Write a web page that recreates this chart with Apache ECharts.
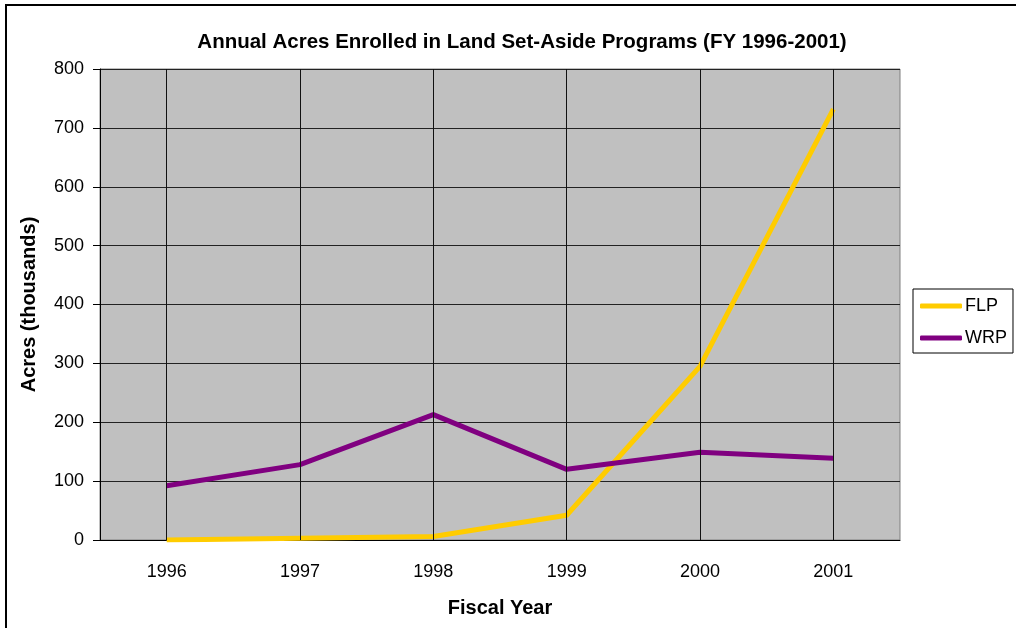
<!DOCTYPE html>
<html>
<head>
<meta charset="utf-8">
<style>
  html, body { margin: 0; padding: 0; background: #fff; }
  #chart { width: 1016px; height: 628px; }
</style>
<script src="https://cdn.jsdelivr.net/npm/echarts@6/dist/echarts.min.js"></script>
</head>
<body>
<div id="chart"></div>
<script>
const years = ['1996', '1997', '1998', '1999', '2000', '2001']
const flp = [0, 3, 6, 42, 295, 732]
const wrp = [92, 128, 213, 120, 149, 139]

const font = '"Liberation Sans", Arial, sans-serif'

const chart = echarts.init(document.getElementById('chart'))

chart.setOption({
  animation: false,
  backgroundColor: '#fff',
  textStyle: { fontFamily: font },
  title: {
    text: 'Annual Acres Enrolled in Land Set-Aside Programs (FY 1996-2001)',
    left: 517,
    top: 27,
    textAlign: 'center',
    textStyle: { fontSize: 20.5, fontWeight: 'bold', color: '#000', fontFamily: font },
  },
  graphic: [
    {
      type: 'rect',
      shape: { x: 6, y: 5, width: 1040, height: 660 },
      style: { fill: 'none', stroke: '#000', lineWidth: 2 },
      silent: true,
    },
  ],
  legend: {
    orient: 'vertical',
    left: 913,
    top: 289,
    padding: [8, 6, 6, 7],
    itemWidth: 42,
    itemHeight: 5,
    itemGap: 14,
    icon: 'roundRect',
    backgroundColor: '#fff',
    borderColor: '#000',
    borderWidth: 1,
    borderRadius: 0,
    textStyle: { fontSize: 18, color: '#000', fontFamily: font, padding: [0, 0, 0, -2] },
    data: ['FLP', 'WRP'],
  },
  grid: {
    left: 100,
    top: 69,
    width: 800,
    height: 471,
    show: true,
    backgroundColor: '#c0c0c0',
    borderColor: '#808080',
    borderWidth: 1,
  },
  xAxis: {
    type: 'category',
    data: years,
    boundaryGap: true,
    name: 'Fiscal Year',
    nameLocation: 'middle',
    nameGap: 58,
    nameTextStyle: { fontSize: 20, fontWeight: 'bold', color: '#000', fontFamily: font },
    axisLine: { lineStyle: { color: '#000', width: 1 } },
    axisTick: { length: 6, lineStyle: { color: '#000' } },
    axisLabel: { fontSize: 18, color: '#000', margin: 23, fontFamily: font },
    splitLine: { show: false },
  },
  yAxis: {
    type: 'value',
    min: 0,
    max: 800,
    interval: 100,
    name: 'Acres (thousands)',
    nameLocation: 'middle',
    nameGap: 61,
    nameTextStyle: { fontSize: 20, fontWeight: 'bold', color: '#000', fontFamily: font },
    axisLine: { show: true, lineStyle: { color: '#000', width: 1 } },
    axisTick: { show: true, length: 7, lineStyle: { color: '#000' } },
    axisLabel: { fontSize: 18, color: '#000', margin: 16, fontFamily: font },
    splitLine: { show: true, lineStyle: { color: '#222', width: 1 } },
  },
  series: [
    {
      name: 'grid-x',
      type: 'line',
      data: years.map(() => null),
      silent: true,
      z: 1,
      markLine: {
        silent: true,
        symbol: 'none',
        label: { show: false },
        lineStyle: { color: '#111', width: 1, type: 'solid' },
        data: years.map((y) => ({ xAxis: y })),
      },
    },
    {
      name: 'FLP',
      type: 'line',
      data: flp,
      symbol: 'none',
      z: 3,
      color: '#ffcc00',
      lineStyle: { color: '#ffcc00', width: 5 },
    },
    {
      name: 'WRP',
      type: 'line',
      data: wrp,
      symbol: 'none',
      z: 4,
      color: '#800080',
      lineStyle: { color: '#800080', width: 5 },
    },
  ],
})
</script>
</body>
</html>
